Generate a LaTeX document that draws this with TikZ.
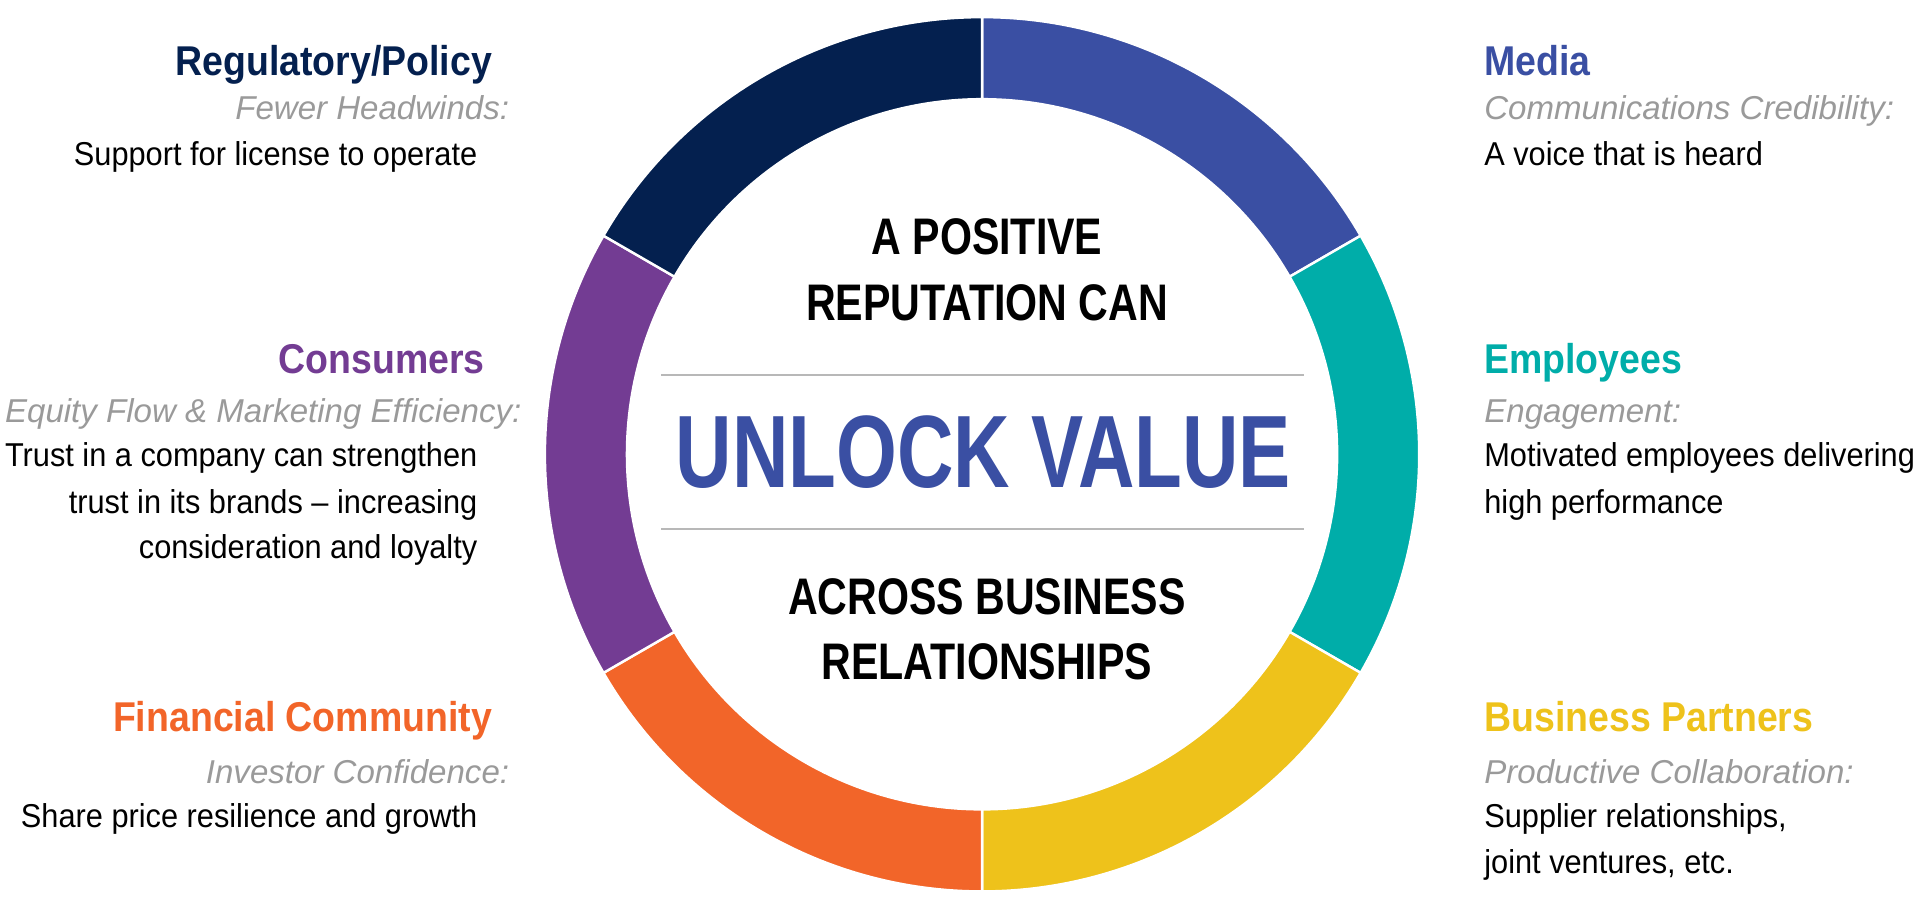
\documentclass[tikz,border=0pt]{standalone}
\usepackage{fontspec}
\setmainfont{Liberation Sans}[FakeStretch=0.93]
\newfontfamily\ttlfont{Liberation Sans}[FakeStretch=0.9]
\newfontfamily\subfont{Liberation Sans}[FakeStretch=1.0]
\newfontfamily\ctrfont{Liberation Sans}[FakeStretch=0.8]
\newfontfamily\uvfont{Liberation Sans}[FakeStretch=0.76]
\usetikzlibrary{calc}
\definecolor{cblue}{HTML}{3A4FA3}
\definecolor{cteal}{HTML}{00ADA9}
\definecolor{cyel}{HTML}{EEC21B}
\definecolor{corg}{HTML}{F26529}
\definecolor{cpur}{HTML}{733C93}
\definecolor{cnavy}{HTML}{04204F}
\definecolor{cgray}{HTML}{9A9A9A}
\tikzset{
 ttl/.style={font=\ttlfont\fontsize{34}{40}\selectfont\bfseries, inner sep=0pt},
 sub/.style={font=\subfont\fontsize{27}{32}\selectfont\itshape, text=cgray, inner sep=0pt},
 bod/.style={font=\fontsize{27}{32}\selectfont, inner sep=0pt},
 ctr/.style={font=\ctrfont\fontsize{42}{48}\selectfont\bfseries, inner sep=0pt, anchor=base},
}
\begin{document}
\begin{tikzpicture}[x=1pt,y=1pt]
\useasboundingbox (0,0) rectangle (1568,744);
\coordinate (c) at (802,373);
\foreach \a/\col in {30/cblue,-30/cteal,-90/cyel,-150/corg,150/cpur,90/cnavy}{
 \pgfmathsetmacro\b{\a+60}
 \fill[\col,draw=white,line width=2pt] ($(c)+(\a:357pt)$) arc[start angle=\a,end angle=\b,radius=357pt] -- ($(c)+(\b:290pt)$) arc[start angle=\b,end angle=\a,radius=290pt] -- cycle;
}
% center
\node[ctr] (t1) at (806,536) {A POSITIVE};
\node[ctr] (t2) at (806,482) {REPUTATION CAN};
\coordinate (l1a) at (540,438); \coordinate (l1b) at (1065,438);
\coordinate (l2a) at (540,312); \coordinate (l2b) at (1065,312);
\draw[cgray!70,line width=1.5pt] (l1a) -- (l1b);
\draw[cgray!70,line width=1.5pt] (l2a) -- (l2b);
\node[ctr,text=cblue,font=\uvfont\fontsize{84}{90}\selectfont\bfseries] (uv) at (803,346) {UNLOCK VALUE};
\node[ctr] (t3) at (806,242) {ACROSS BUSINESS};
\node[ctr] (t4) at (806,189) {RELATIONSHIPS};
% left
\node[ttl,text=cnavy,anchor=base east] (rp) at (402,682) {Regulatory/Policy};
\node[sub,anchor=base east] (rps) at (416,646) {Fewer Headwinds:};
\node[bod,anchor=base east] (rpb) at (390,609) {Support for license to operate};
\node[ttl,text=cpur,anchor=base east] (co) at (396,439) {Consumers};
\node[sub,anchor=base east] (cos) at (426,399) {Equity Flow \& Marketing Efficiency:};
\node[bod,anchor=base east] (cob1) at (390,363) {Trust in a company can strengthen};
\node[bod,anchor=base east] (cob2) at (390,325) {trust in its brands -- increasing};
\node[bod,anchor=base east] (cob3) at (390,288) {consideration and loyalty};
\node[ttl,text=corg,anchor=base east] (fc) at (402,147) {Financial Community};
\node[sub,anchor=base east] (fcs) at (416,104) {Investor Confidence:};
\node[bod,anchor=base east] (fcb) at (390,68) {Share price resilience and growth};
% right
\node[ttl,text=cblue,anchor=base west] (me) at (1212,682) {Media};
\node[sub,anchor=base west] (mes) at (1212,646) {Communications Credibility:};
\node[bod,anchor=base west] (meb) at (1212,609) {A voice that is heard};
\node[ttl,text=cteal,anchor=base west] (em) at (1212,439) {Employees};
\node[sub,anchor=base west] (ems) at (1212,399) {Engagement:};
\node[bod,anchor=base west] (emb1) at (1212,363) {Motivated employees delivering};
\node[bod,anchor=base west] (emb2) at (1212,325) {high performance};
\node[ttl,text=cyel,anchor=base west] (bp) at (1212,147) {Business Partners};
\node[sub,anchor=base west] (bps) at (1212,104) {Productive Collaboration:};
\node[bod,anchor=base west] (bpb1) at (1212,68) {Supplier relationships,};
\node[bod,anchor=base west] (bpb2) at (1212,31) {joint ventures, etc.};
\end{tikzpicture}
\end{document}
